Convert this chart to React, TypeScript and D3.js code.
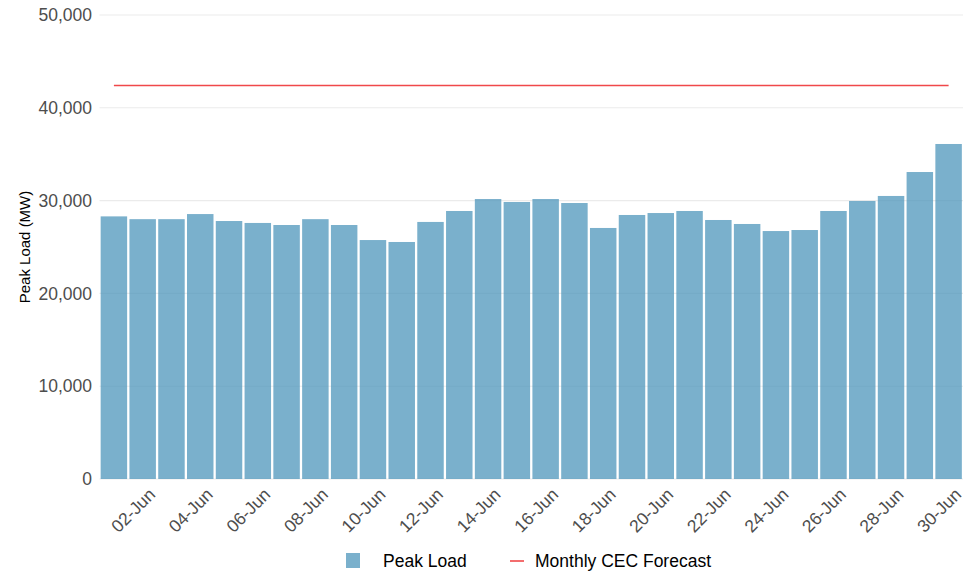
import React from "react";
import * as d3 from "d3";

const days = Array.from({ length: 30 }, (_, i) => `${String(i + 1).padStart(2, "0")}-Jun`);
const peakLoad = [
  28300, 28000, 28000, 28550, 27800, 27590, 27370, 28000, 27370, 25750,
  25540, 27700, 28880, 30170, 29850, 30170, 29740, 27050, 28450, 28660,
  28880, 27910, 27480, 26720, 26830, 28880, 29960, 30500, 33080, 36100,
];
const forecast = 42400;
const yTicks = [0, 10000, 20000, 30000, 40000, 50000];
const xLabelDays = days.filter((_, i) => i % 2 === 1);

const W = 973;
const H = 571;
const left = 99.5;
const right = 963;
const top = 15;
const bottom = 479;

export default function App() {
  const x = d3.scaleBand<string>().domain(days).range([left, right]).paddingInner(0.08).paddingOuter(0.04);
  const y = d3.scaleLinear().domain([0, 50000]).range([bottom, top]);
  const fmt = d3.format(",");
  const font = "Liberation Sans, Arial, sans-serif";
  const fx = [days[0], days[days.length - 1]];
  const lg = d3.line<[string, number]>().x((d) => (x(d[0]) as number) + x.bandwidth() / 2).y((d) => y(d[1]));
  return (
    <svg width={W} height={H} style={{ position: "absolute", left: 0, top: 0 }} fontFamily={font}>
      <rect width={W} height={H} fill="#fff" />
      {yTicks.map((t) => (
        <g key={t}>
          <line x1={left} x2={right} y1={y(t)} y2={y(t)} stroke="#ebebeb" strokeWidth={1.1} />
          <text x={92} y={y(t)} dy="0.35em" textAnchor="end" fontSize={17.5} fill="#4d4d4d">
            {fmt(t)}
          </text>
        </g>
      ))}
      {peakLoad.map((v, i) => (
        <rect
          key={i}
          x={x(days[i])}
          y={y(v)}
          width={x.bandwidth()}
          height={bottom - y(v)}
          fill="rgb(70,145,185)"
          fillOpacity={0.72}
        />
      ))}
      <path
        d={lg(fx.map((d) => [d, forecast] as [string, number])) || ""}
        stroke="#f0484a"
        strokeWidth={1.6}
        fill="none"
      />
      {xLabelDays.map((d) => {
        const cx = (x(d) as number) + x.bandwidth() / 2;
        return (
          <text
            key={d}
            transform={`translate(${cx + 5},${bottom + 8}) rotate(-45)`}
            textAnchor="end"
            dy="0.7em"
            fontSize={17.5}
            fill="#4d4d4d"
          >
            {d}
          </text>
        );
      })}
      <text
        transform={`translate(30,${(top + bottom) / 2}) rotate(-90)`}
        textAnchor="middle"
        fontSize={15}
        fill="#000"
      >
        Peak Load (MW)
      </text>
      <rect x={346} y={553} width={14} height={15} fill="rgb(70,145,185)" fillOpacity={0.72} />
      <text x={383} y={561} dy="0.35em" fontSize={17.5} fill="#000">
        Peak Load
      </text>
      <line x1={510} x2={524} y1={561} y2={561} stroke="#f0484a" strokeWidth={1.6} />
      <text x={535} y={561} dy="0.35em" fontSize={17.5} fill="#000">
        Monthly CEC Forecast
      </text>
    </svg>
  );
}
